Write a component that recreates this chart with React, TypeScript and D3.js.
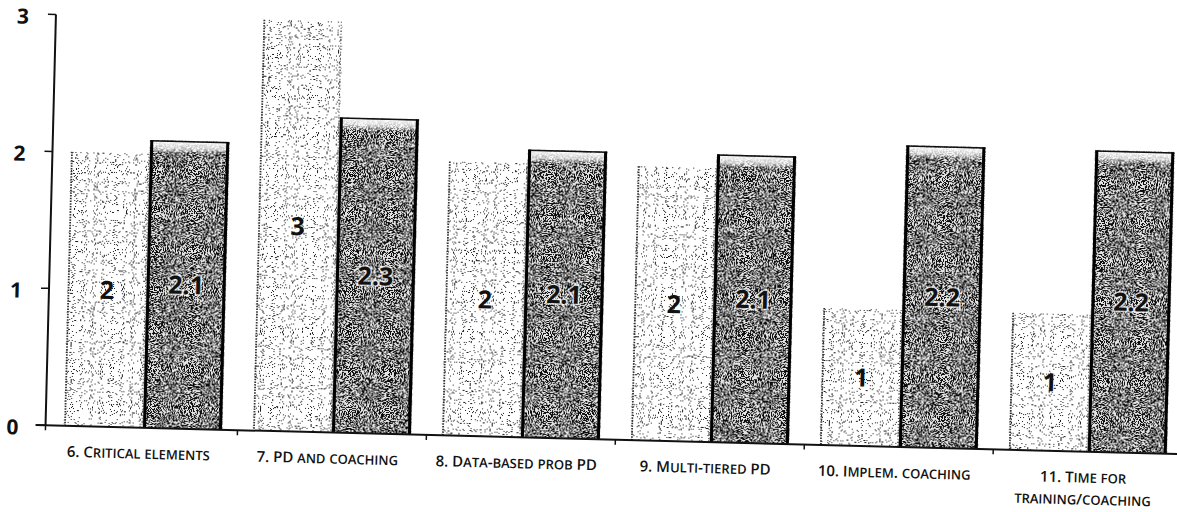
import React from 'react';
import * as d3 from 'd3';

// values
const categories = [
  ['6. Critical elements'],
  ['7. PD and coaching'],
  ['8. Data-based prob PD'],
  ['9.  Multi-tiered PD'],
  ['10. Implem. coaching'],
  ['11. Time for', 'training/coaching'],
];
const lightValues = [2, 3, 2, 2, 1, 1];
const darkValues = [2.1, 2.3, 2.1, 2.1, 2.2, 2.2];
const yTicks = [0, 1, 2, 3];

const W = 1177;
const H = 512;
// the scan is slightly tilted
const TILT = 1.45;

const font = '"Open Sans", "Liberation Sans", sans-serif';

// small caps by hand: lowercase letters become smaller capitals
function smallCaps(s: string) {
  const runs: { t: string; small: boolean }[] = [];
  for (const ch of s) {
    const small = ch !== ch.toUpperCase();
    const last = runs[runs.length - 1];
    if (last && last.small === small) last.t += ch.toUpperCase();
    else runs.push({ t: ch.toUpperCase(), small });
  }
  return runs;
}

const table = (dark: number, light: number, cut: number) =>
  d3.range(20).map(i => (i < cut ? dark : light)).join(' ');

export default function App() {
  const ids = categories.map((_, i) => String(i));
  const x = d3.scaleBand<string>().domain(ids).range([53, 1187]).paddingInner(0.164).paddingOuter(0.082);
  const half = x.bandwidth() / 2;
  const y = d3.scaleLinear().domain([0, 3]).range([439, 28]);
  const y0 = y(0);

  const darkT = table(0.05, 0.9, 10);
  const lightT = table(0.1, 1, 7);

  return (
    <svg width={W} height={H} style={{ position: 'absolute', left: 0, top: 0, background: '#fff' }}>
      <defs>
        <filter id="darkTex" x="0" y="0" width="1" height="1" colorInterpolationFilters="sRGB">
          <feTurbulence type="fractalNoise" baseFrequency="0.9" numOctaves="2" seed="4" result="noise" />
          <feColorMatrix in="noise" type="matrix" values="1 0 0 0 0  1 0 0 0 0  1 0 0 0 0  0 0 0 0 1" result="gray" />
          <feComponentTransfer in="gray" result="bw">
            <feFuncR type="discrete" tableValues={darkT} />
            <feFuncG type="discrete" tableValues={darkT} />
            <feFuncB type="discrete" tableValues={darkT} />
          </feComponentTransfer>
          <feComposite in="bw" in2="SourceGraphic" operator="in" />
        </filter>
        <filter id="lightTex" x="0" y="0" width="1" height="1" colorInterpolationFilters="sRGB">
          <feTurbulence type="fractalNoise" baseFrequency="0.9" numOctaves="1" seed="9" result="noise" />
          <feColorMatrix in="noise" type="matrix" values="1 0 0 0 0  1 0 0 0 0  1 0 0 0 0  0 0 0 0 1" result="gray" />
          <feComponentTransfer in="gray" result="bw">
            <feFuncR type="discrete" tableValues={lightT} />
            <feFuncG type="discrete" tableValues={lightT} />
            <feFuncB type="discrete" tableValues={lightT} />
          </feComponentTransfer>
          <feComposite in="bw" in2="SourceGraphic" operator="in" />
        </filter>
        <linearGradient id="topShine" x1="0" y1="0" x2="0" y2="1">
          <stop offset="0" stopColor="#fff" stopOpacity="0.95" />
          <stop offset="0.55" stopColor="#fff" stopOpacity="0.7" />
          <stop offset="1" stopColor="#fff" stopOpacity="0" />
        </linearGradient>
      </defs>

      <g transform={`rotate(${TILT} ${W / 2} ${H / 2})`}>
        {/* bars */}
        {ids.map((id, i) => {
          const xl = x(id)!;
          const xd = xl + half;
          const yl = y(lightValues[i]);
          const yd = y(darkValues[i]);
          return (
            <g key={id}>
              <rect x={xl} y={yl} width={half} height={y0 - yl} fill="#fff" filter="url(#lightTex)" />
              <line x1={xl + 1} x2={xl + 1} y1={yl} y2={y0} stroke="#333" strokeWidth={1.8} strokeDasharray="1.5 1.2" />
              <line x1={xl + half - 1} x2={xl + half - 1} y1={yl} y2={y0} stroke="#555" strokeWidth={1.2} strokeDasharray="1 2" />
              <rect x={xd} y={yd} width={half} height={y0 - yd} fill="#000" filter="url(#darkTex)" />
              <rect x={xd + 2} y={yd + 1} width={half - 4} height={12} fill="url(#topShine)" />
              <line x1={xd} x2={xd + half} y1={yd + 0.5} y2={yd + 0.5} stroke="#111" strokeWidth={1.5} />
              <line x1={xd + 1.5} x2={xd + 1.5} y1={yd} y2={y0} stroke="#000" strokeWidth={3} />
              <line x1={xd + half - 1.5} x2={xd + half - 1.5} y1={yd} y2={y0} stroke="#000" strokeWidth={3} />
            </g>
          );
        })}

        {/* value labels */}
        {ids.map((id, i) => {
          const xl = x(id)!;
          const yl = y(lightValues[i]);
          const yd = y(darkValues[i]);
          return (
            <g key={'v' + id} fontFamily={font} fontWeight={700} fontSize={25} textAnchor="middle">
              <text x={xl + half / 2} y={(yl + y0) / 2 + 9} fill="#111">{lightValues[i]}</text>
              <text x={xl + half * 1.5} y={(yd + y0) / 2 + 9} fill="#111" stroke="#fff" strokeWidth={3}
                strokeOpacity={0.7} paintOrder="stroke">{darkValues[i]}</text>
            </g>
          );
        })}

        {/* y axis */}
        <line x1={50} x2={50} y1={y(3)} y2={y0} stroke="#111" strokeWidth={2} />
        {yTicks.map(t => (
          <g key={t}>
            <line x1={42} x2={50} y1={y(t)} y2={y(t)} stroke="#111" strokeWidth={1.5} />
            <text x={17} y={y(t) + 10} textAnchor="middle" fontFamily={font} fontWeight={700} fontSize={21} fill="#111">{t}</text>
          </g>
        ))}

        {/* x axis */}
        <line x1={40} x2={W + 20} y1={y0} y2={y0} stroke="#111" strokeWidth={2} />
        {[50, ...ids.map(id => x(id)! + x.bandwidth() + (x.step() - x.bandwidth()) / 2)].map((tx, i) => (
          <line key={i} x1={tx} x2={tx} y1={y0} y2={y0 + 5} stroke="#111" strokeWidth={1.5} />
        ))}

        {/* category labels */}
        {ids.map((id, i) => (
          <g key={'c' + id}>
            {categories[i].map((line, j) => (
              <text key={j} x={x(id)! + half - 4} y={y0 + 31 + j * 22} textAnchor="middle" fontFamily={font}
                fontWeight={600} fill="#111">
                {smallCaps(line).map((r, k) => (
                  <tspan key={k} fontSize={r.small ? 13 : 15}>{r.t}</tspan>
                ))}
              </text>
            ))}
          </g>
        ))}
      </g>
    </svg>
  );
}
